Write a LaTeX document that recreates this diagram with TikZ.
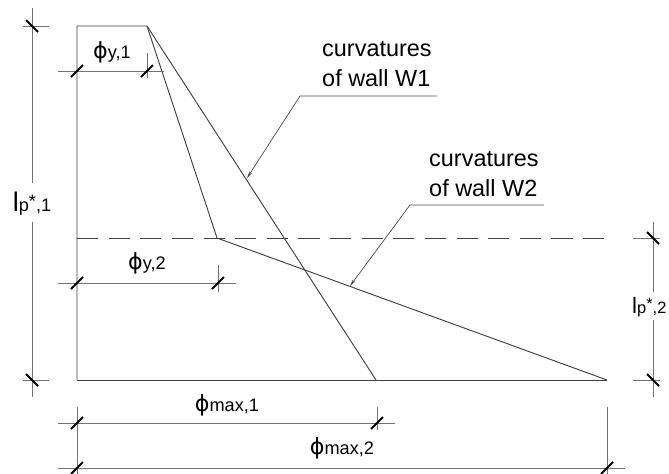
\documentclass[tikz,border=0pt]{standalone}
\usepackage{fontspec}
\setmainfont{Liberation Sans}
\newfontfamily\phifont{DejaVu Sans}
\usetikzlibrary{arrows.meta}
\newcommand{\phisym}{{\phifont\fontsize{19}{19}\selectfont ϕ}}

\begin{document}
\begin{tikzpicture}[x=0.03cm, y=-0.03cm,
    wall/.style={draw=black!75, line width=0.8pt},
    dimline/.style={draw=black!55, line width=0.55pt},
    tickmark/.style={draw=black, line width=1.6pt},
    leader/.style={draw=black!70, line width=0.6pt, -{Stealth[length=6pt,width=2.6pt]}},
    note/.style={align=left, inner sep=0pt, font=\fontsize{20}{25.5}\selectfont},
    dimlabel/.style={inner sep=0pt, font=\fontsize{15.5}{16}\selectfont}
]
\useasboundingbox (0,0) rectangle (669,474);

% curvature profiles
\coordinate (tl) at (77,26);
\coordinate (tr) at (147,26);
\coordinate (bl) at (77,380);
\coordinate (wonebot) at (376,380);
\coordinate (kink) at (217,238);
\coordinate (wtwobot) at (607,380);

\draw[wall] (bl) -- (tl) -- (tr) -- (wonebot);
\draw[wall] (tr) -- (kink) -- (wtwobot);
\draw[wall] (bl) -- (wtwobot);
\draw[wall, dash pattern=on 18pt off 9pt] (77,238) -- (607,238);

% notes with leaders
\node[note, anchor=north west] (notewone) at (322,41.5) {curvatures\\of wall W1};
\node[note, anchor=north west] (notewtwo) at (429,151) {curvatures\\of wall W2};
\draw[leader] (437,96) -- (300,96) -- (247,178);
\draw[leader] (544,205) -- (410,205) -- (350,286);

% horizontal dimensions
\draw[dimline] (58,71) -- (164,71);
\draw[dimline] (147,53) -- (147,78);
\node[dimlabel] (phiyone) at (112,52) {\phisym y,1};

\draw[dimline] (58,283) -- (236,283);
\draw[dimline] (218,265) -- (218,292);
\node[dimlabel] (phiytwo) at (147,263) {\phisym y,2};

\draw[dimline] (58,423) -- (395,423);
\draw[dimline] (377,407) -- (377,430);
\draw[dimline] (77,407) -- (77,474);
\node[dimlabel] (phimaxone) at (227,405) {\phisym max,1};

\draw[dimline] (58,468) -- (625,468);
\draw[dimline] (607,407) -- (607,474);
\node[dimlabel] (phimaxtwo) at (342,448) {\phisym max,2};

% vertical dimensions
\draw[dimline] (23,26) -- (49,26);
\draw[dimline] (23,380) -- (49,380);
\draw[dimline] (32,8) -- (32,183);
\draw[dimline] (32,222) -- (32,397);
\node[dimlabel] (lpone) at (32,204) {{\fontsize{23}{23}\selectfont l}p\raisebox{4pt}{*},1};

\draw[dimline] (633,238) -- (660,238);
\draw[dimline] (633,380) -- (660,380);
\draw[dimline] (653,222) -- (653,292);
\draw[dimline] (653,320) -- (653,397);
\node[dimlabel, anchor=west, font=\fontsize{14}{14}\selectfont] (lptwo) at (632,307)
    {{\fontsize{19}{19}\selectfont l}p\raisebox{3.5pt}{*},2};

% ticks
\foreach \p in {(77,71),(147,71),(77,283),(218,283),(77,423),(377,423),(77,468),(607,468)}
    \draw[tickmark] \p ++(-6,6) -- ++(12,-12);
\foreach \p in {(32,26),(32,380),(653,238),(653,380)}
    \draw[tickmark] \p ++(-6,-6) -- ++(12,12);
\end{tikzpicture}
\end{document}
